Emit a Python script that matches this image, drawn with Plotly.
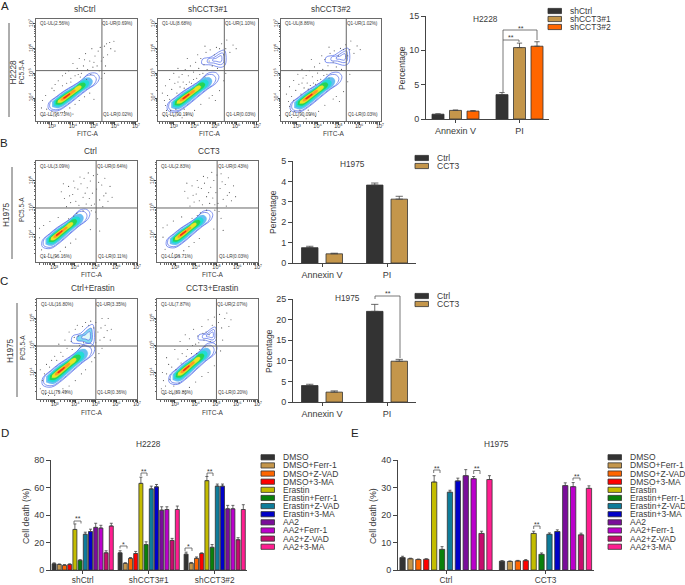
import numpy as np
import plotly.graph_objects as go

W, H = 685, 585
FONT = "Liberation Sans"
INK = "#3a3a3a"

# ---------- bar data ----------
A_GROUPS = ["Annexin V", "PI"]
A_SERIES = ["shCtrl", "shCCT3#1", "shCCT3#2"]
A_VALUES = [[0.7, 3.55], [1.25, 10.4], [1.15, 10.6]]
A_ERRORS = [[0.05, 0.3], [0.06, 0.65], [0.07, 0.65]]
A_COLORS = ["#333333", "#C4964B", "#FF6600"]

B_GROUPS = ["Annexin V", "PI"]
B_SERIES = ["Ctrl", "CCT3"]
B_VALUES = [[0.75, 3.82], [0.45, 3.13]]
B_ERRORS = [[0.07, 0.1], [0.03, 0.14]]

C_GROUPS = ["Annexin V", "PI"]
C_SERIES = ["Ctrl", "CCT3"]
C_VALUES = [[4.0, 22.0], [2.4, 9.9]]
C_ERRORS = [[0.3, 1.7], [0.3, 0.45]]

TREATMENTS = ["DMSO", "DMSO+Ferr-1", "DMSO+Z-VAD", "DMSO+3-MA", "Erastin", "Erastin+Ferr-1",
              "Erastin+Z-VAD", "Erastin+3-MA", "AA2", "AA2+Ferr-1", "AA2+Z-VAD", "AA2+3-MA"]
T_COLORS = ["#333333", "#C4964B", "#FF6600", "#FF0000", "#C4BC00", "#0A800A",
            "#0E7C9A", "#0000C8", "#7A0D9A", "#BB00CC", "#C60C6E", "#FF1E90"]

D_GROUPS = ["shCtrl", "shCCT3#1", "shCCT3#2"]
D_VALUES = [[4.5, 4.0, 3.5, 4.0, 29.5, 7.0, 26.0, 28.0, 31.0, 30.5, 12.5, 32.0],
            [12.5, 4.8, 8.5, 12.0, 63.0, 18.5, 59.0, 60.5, 43.5, 44.0, 21.5, 44.0],
            [11.5, 5.0, 8.5, 12.0, 65.0, 16.5, 61.0, 61.0, 44.5, 44.5, 22.0, 44.0]]
D_ERRORS = [[0.7, 0.4, 0.4, 0.5, 4.0, 0.5, 1.5, 1.7, 3.0, 2.0, 1.5, 2.0],
            [1.5, 0.5, 0.5, 1.5, 4.5, 2.0, 2.0, 1.7, 2.5, 2.0, 1.5, 2.5],
            [1.5, 0.5, 1.0, 0.5, 3.0, 2.0, 1.5, 1.5, 2.5, 2.5, 1.5, 3.5]]

E_GROUPS = ["Ctrl", "CCT3"]
E_VALUES = [[4.5, 4.1, 3.8, 3.9, 32.0, 7.5, 28.3, 32.4, 34.3, 33.2, 13.3, 32.9],
            [3.2, 3.1, 3.3, 3.4, 13.3, 5.7, 13.0, 14.0, 30.7, 30.3, 12.8, 29.7]]
E_ERRORS = [[0.5, 0.2, 0.2, 0.2, 2.3, 1.0, 0.7, 1.0, 2.2, 0.8, 0.8, 1.4],
            [0.2, 0.2, 0.2, 0.4, 0.8, 0.5, 0.5, 0.6, 1.0, 1.5, 0.6, 0.9]]

# ---------- flow cytometry data (decades of signal) ----------
QUADRANTS = {
    "shCtrl": ["2.56", "0.69", "96.73", "0.02"],
    "shCCT3#1": ["8.68", "1.10", "90.19", "0.03"],
    "shCCT3#2": ["8.86", "1.02", "90.09", "0.03"],
    "Ctrl": ["3.09", "0.64", "96.16", "0.11"],
    "CCT3": ["2.83", "0.43", "96.71", "0.03"],
    "Ctrl+Erastin": ["16.80", "3.35", "79.49", "0.36"],
    "CCT3+Erastin": ["7.87", "2.07", "89.86", "0.20"],
}
MAIN_OUTLINE = [(2.85, 3.55), (3.25, 3.48), (3.75, 3.72), (4.2, 4.02), (4.7, 4.35), (5.15, 4.62),
                (5.25, 4.85), (5.1, 5.0), (4.75, 4.98), (4.4, 4.72), (4.0, 4.5), (3.6, 4.3),
                (3.2, 4.05), (2.85, 3.8)]
UPPER_OUTLINE = [(-1.05, -0.25), (-0.5, -0.3), (0.1, -0.42), (0.35, -0.3), (0.4, 0.2),
                 (0.3, 0.45), (-0.05, 0.35), (-0.5, 0.1), (-1.0, 0.0)]

DOTS_A1 = [(3.3,4.7),(3.5,4.9),(3.7,4.6),(3.8,5.1),(3.9,4.8),(4.0,5.4),(4.1,4.9),(4.2,5.2),(4.3,5.6),
           (4.4,5.0),(4.5,5.3),(4.6,5.8),(4.7,5.15),(4.8,5.5),(4.9,6.0),(4.95,5.25),(5.05,5.7),(5.15,5.3),
           (5.2,5.9),(5.3,6.05),(5.35,5.5),(5.45,5.65),(5.5,6.1),(5.55,5.3),(5.6,6.2),(5.65,5.75),(5.75,6.25),
           (5.8,6.0),(5.95,6.3),(6.0,5.9),(5.5,5.0),(5.35,4.8),(2.5,3.6),(2.6,3.3),(2.7,4.1),(2.95,3.3),
           (3.1,4.3),(3.2,3.25),(3.4,3.4),(3.6,3.45),(3.85,3.6),(4.1,3.75),(4.3,3.9),(4.55,4.05),(4.8,4.2),
           (2.55,3.9),(3.0,4.4),(3.5,4.5),(3.9,4.65),(4.35,4.85),(4.65,4.75),(4.0,3.35),(5.0,3.95),
           (3.15,4.55),(3.65,5.0),(4.25,4.95),(4.55,5.55),(4.85,4.95),(5.0,5.45),(5.25,5.1),(2.75,3.55),(3.0,3.45)]
DOTS_A2 = [(2.5,3.3),(2.6,3.7),(2.7,3.25),(2.7,4.1),(2.85,3.5),(2.9,4.35),(3.0,3.25),(3.05,4.6),(3.15,4.2),
           (3.25,4.85),(3.3,4.45),(3.4,4.95),(3.45,4.65),(3.55,5.15),(3.6,4.55),(3.7,4.9),(3.8,5.3),(3.85,4.6),
           (3.95,5.05),(4.05,5.45),(4.1,4.8),(4.2,5.2),(4.3,5.6),(4.4,5.0),(4.45,5.35),(4.55,5.85),(4.6,5.15),
           (4.7,5.5),(4.75,5.95),(4.85,5.3),(4.95,5.75),(5.05,6.05),(5.1,5.2),(5.2,6.0),(5.3,6.2),(5.4,5.75),
           (5.5,6.0),(5.55,6.35),(5.7,5.85),(5.85,6.15),(6.0,6.0),(5.5,5.0),(5.4,4.7),(3.3,3.3),(3.6,3.35),
           (4.0,3.5),(4.3,3.75),(4.7,4.0),(5.0,3.9),(2.6,4.5),(3.0,5.0),(3.4,3.2),(4.85,4.1),(5.2,4.3),
           (2.55,3.9),(2.8,4.75),(3.2,5.2),(3.65,5.6),(4.15,5.75),(4.5,6.1),(2.45,4.2),(2.65,3.5),(2.8,3.95),
           (3.1,3.55),(3.2,4.65),(3.5,4.4),(3.75,4.65),(3.95,4.75),(4.25,4.95),(4.5,4.85),(3.5,3.55),(3.85,3.3)]
DOTS_B = [(3.35,5.6),(3.5,5.35),(3.6,5.05),(3.7,5.8),(3.8,5.2),(3.9,5.5),(3.95,6.0),(4.05,5.25),(4.15,5.7),
          (4.2,5.1),(4.3,5.9),(4.4,5.4),(4.45,6.1),(4.55,5.15),(4.6,5.75),(4.7,5.35),(4.75,6.0),(4.85,5.55),
          (4.9,6.2),(4.95,5.15),(5.05,5.7),(5.1,6.25),(5.2,5.3),(5.3,5.85),(5.35,5.05),(5.45,6.1),(5.5,5.55),
          (5.6,5.25),(5.7,5.8),(5.8,5.4),(5.0,4.85),(5.1,4.6),(4.8,4.9),(4.4,4.9),(4.1,4.8),(3.7,4.6),
          (3.95,4.7),(2.3,3.9),(2.4,3.45),(2.55,3.2),(2.75,3.3),(2.9,3.15),(3.1,3.2),(3.3,3.4),(3.55,3.55),
          (3.8,3.7),(4.05,3.85),(2.3,4.25),(2.5,4.35),(2.8,4.5),(5.2,4.15),(4.75,4.2),(3.2,4.65),
          (3.45,5.9),(3.75,5.45),(4.0,5.75),(4.25,6.15),(4.5,5.55),(4.65,6.3),(4.8,5.1),(5.15,5.95),(5.4,5.45)]
DOTS_C1 = [(3.0,4.6),(3.2,5.05),(3.3,4.75),(3.5,5.2),(3.6,4.9),(3.7,5.5),(3.8,5.15),(3.85,4.85),(4.0,5.6),
           (4.1,5.75),(4.2,5.0),(4.35,5.7),(4.5,5.85),(4.65,5.75),(4.75,5.9),(4.9,5.65),(5.0,5.85),(5.1,5.5),
           (5.2,5.2),(5.25,5.65),(5.3,6.0),(5.4,5.3),(5.45,5.75),(5.55,5.55),(5.6,6.0),(5.7,5.2),(5.75,5.6),
           (5.3,4.9),(5.15,4.7),(4.95,4.55),(2.3,3.4),(2.4,3.7),(2.55,3.2),(2.7,3.15),(2.85,4.45),(3.0,3.15),
           (3.2,3.3),(3.4,3.4),(3.7,3.5),(4.0,3.7),(4.3,3.95),(2.3,4.1),(2.6,4.3),(4.5,4.1),(4.8,4.4),
           (3.4,4.6),(3.95,5.3),(4.15,5.35),(4.4,5.1),(2.5,3.95),(2.75,4.2),(3.1,4.45),(3.55,3.3),(5.0,5.1)]
DOTS_C2 = [(2.35,3.4),(2.4,4.0),(2.5,3.2),(2.6,4.55),(2.75,3.75),(2.85,4.2),(2.9,3.2),(3.0,4.85),(3.15,4.5),
           (3.25,5.15),(3.35,4.7),(3.5,5.4),(3.6,4.85),(3.7,5.25),(3.8,4.7),(3.9,5.6),(4.0,5.05),(4.1,5.35),
           (4.2,4.85),(4.3,5.7),(4.4,5.2),(4.5,5.5),(4.6,5.95),(4.7,5.15),(4.8,5.75),(4.9,6.05),(5.0,5.3),
           (5.1,5.85),(5.15,6.15),(5.25,5.65),(5.4,6.0),(5.5,6.2),(5.6,5.7),(5.7,5.95),(5.3,5.2),(5.2,4.8),
           (3.1,3.25),(3.4,3.3),(3.7,3.45),(4.0,3.65),(4.3,3.85),(4.6,4.0),(4.9,4.25),(2.6,3.95),(3.5,3.2),
           (2.45,3.7),(2.7,4.3),(2.95,3.5),(3.2,3.6),(3.3,4.35),(3.55,4.6),(3.85,5.0),(4.05,4.7),(4.35,5.45),
           (4.65,5.4),(2.55,3.5),(2.8,3.3),(3.05,4.1),(4.15,5.1),(4.45,4.95)]

SUPERS = {3: "\u00b3", 4: "\u2074", 5: "\u2075", 6: "\u2076", 7: "\u2077"}
MINOR = [np.log10(m) + d for d in range(2, 8) for m in range(2, 10)]
# along-axis and across-axis shrink of each filled contour level
FILL_LEVELS = [(0.80, 0.80), (0.70, 0.64), (0.60, 0.47), (0.48, 0.31), (0.30, 0.19), (0.14, 0.10)]
FILL_COLORS = ["#66bdf2", "#22dcd6", "#26d455", "#e8e626", "#ff9a22", "#f02a12"]
UX, UY = 0.85, 0.53

fig = go.Figure()
annotations, shapes, layout_axes = [], [], {}
ax_n = 0


def px(x):
    return x / W


def py(y):
    return 1 - y / H


def text(x, y, s, size=8.5, angle=0, anchor="center", color=INK):
    annotations.append(dict(x=px(x), y=py(y), xref="paper", yref="paper", text=s, showarrow=False,
                            xanchor=anchor, yanchor="middle", textangle=angle, borderpad=0,
                            font=dict(family=FONT, size=size, color=color)))


def bracket(x0, y0, x1, y1, ytop, star=None, starx=None, stary=None):
    path = f"M {px(x0)} {py(y0)} L {px(x0)} {py(ytop)} L {px(x1)} {py(ytop)} L {px(x1)} {py(y1)}"
    shapes.append(dict(type="path", path=path, xref="paper", yref="paper",
                       line=dict(color="#555555", width=0.8)))
    if star:
        text(starx, stary, star, size=7)


def legend(x, ys, labels, colors, tx, size=8.5):
    for yc, lab, col in zip(ys, labels, colors):
        shapes.append(dict(type="rect", xref="paper", yref="paper", x0=px(x), x1=px(x + 13.5),
                           y0=py(yc - 2.6), y1=py(yc + 2.6), fillcolor=col,
                           line=dict(color="#333333", width=0.8)))
        text(tx, yc, lab, size=size, anchor="left")


def new_axes(rect):
    global ax_n
    ax_n += 1
    sfx = "" if ax_n == 1 else str(ax_n)
    l, t, r, b = rect
    xa = dict(domain=[px(l), px(r)], anchor=f"y{sfx}", automargin=False)
    ya = dict(domain=[py(b), py(t)], anchor=f"x{sfx}", automargin=False)
    layout_axes[f"xaxis{sfx}"] = xa
    layout_axes[f"yaxis{sfx}"] = ya
    return f"x{sfx}", f"y{sfx}", xa, ya


def bars(rect, groups, series, values, errors, colors, ymax, dtick, c0, spacing, step, width, size=9, xsize=9, xoff=0):
    xr, yr, xa, ya = new_axes(rect)
    n = len(series)
    for i, (name, vals, errs, col) in enumerate(zip(series, values, errors, colors)):
        off = ((i - (n - 1) / 2) * step - width / 2) / spacing
        fig.add_trace(go.Bar(x=groups, y=vals, name=name, xaxis=xr, yaxis=yr, showlegend=False,
                             width=width / spacing, offset=off,
                             marker=dict(color=col, line=dict(color="#333333", width=0.8)),
                             error_y=dict(type="data", array=errs, arrayminus=[0] * len(errs), symmetric=False,
                                          color="#444444", thickness=0.8, width=max(1.5, width * 0.22))))
    xa.update(type="category", categoryorder="array", categoryarray=groups,
              range=[(rect[0] - c0) / spacing, (rect[2] - c0) / spacing],
              showline=True, linecolor="#444444", linewidth=1, showgrid=False, zeroline=False,
              ticks="outside", ticklen=3, tickwidth=1, tickcolor="#444444", ticklabelstandoff=xoff,
              tickfont=dict(family=FONT, size=xsize, color=INK))
    ya.update(range=[0, ymax], dtick=dtick, showline=True, linecolor="#444444", linewidth=1, showgrid=False,
              zeroline=False, ticks="outside", ticklen=4, tickwidth=1, tickcolor="#444444",
              tickfont=dict(family=FONT, size=size, color=INK))


def shrink(mx, my, cx, cy, sa, sp):
    xs, ys = [], []
    for x, y in zip(mx, my):
        dx, dy = x - cx, y - cy
        a = dx * UX + dy * UY
        b = -dx * UY + dy * UX
        a, b = a * sa, b * sp
        xs.append(cx + a * UX - b * UY)
        ys.append(cy + a * UY + b * UX)
    return xs, ys


def flow(rect, title, xrange, yrange, gx, gy, ylabels, dots, c, extra=None):
    xr, yr, xa, ya = new_axes(rect)
    cx, cy, sx, sy = c
    mx = [(p[0] - 3.65) * sx + cx for p in MAIN_OUTLINE]
    my = [(p[1] - 4.05) * sy + cy for p in MAIN_OUTLINE]
    for sc in (1.0, 0.91):
        xs, ys = shrink(mx + mx[:1], my + my[:1], cx, cy, sc, sc)
        fig.add_trace(go.Scatter(x=xs, y=ys, mode="lines", line=dict(color="#4a66e8", width=0.7, shape="spline"),
                                 xaxis=xr, yaxis=yr, showlegend=False, hoverinfo="skip"))
    for (sa, sp), col in zip(FILL_LEVELS, FILL_COLORS):
        xs, ys = shrink(mx, my, cx, cy, sa, sp)
        fig.add_trace(go.Scatter(x=xs, y=ys, mode="lines", fill="toself", fillcolor=col,
                                 line=dict(color=col, width=0.3, shape="spline"),
                                 xaxis=xr, yaxis=yr, showlegend=False, hoverinfo="skip"))
    if extra:
        ex, ey, ksx, ksy, filled = extra
        for sc in (1.0, 0.68, 0.38):
            fig.add_trace(go.Scatter(
                x=[ex + p[0] * ksx * sc for p in UPPER_OUTLINE + UPPER_OUTLINE[:1]],
                y=[ey + p[1] * ksy * sc for p in UPPER_OUTLINE + UPPER_OUTLINE[:1]],
                mode="lines", line=dict(color="#4a66e8", width=0.7, shape="spline"),
                fill="toself" if filled and sc < 1 else None,
                fillcolor="#7fdcef" if sc > 0.5 else "#dff8f8",
                xaxis=xr, yaxis=yr, showlegend=False, hoverinfo="skip"))
    fig.add_trace(go.Scatter(x=[p[0] for p in dots], y=[p[1] for p in dots], mode="markers",
                             marker=dict(size=1.1, color="#555555"), xaxis=xr, yaxis=yr,
                             showlegend=False, hoverinfo="skip"))
    for xs, ys in [([gx, gx], yrange), (xrange, [gy, gy])]:
        fig.add_trace(go.Scatter(x=xs, y=ys, mode="lines", line=dict(color="#666666", width=1),
                                 xaxis=xr, yaxis=yr, showlegend=False, hoverinfo="skip"))
    common = dict(showline=True, mirror=True, linecolor="#6a6a6a", linewidth=1, showgrid=False, zeroline=False,
                  ticks="outside", ticklen=2.5, tickwidth=0.7, tickcolor="#444444",
                  ticklabelstandoff=-3,
                  tickfont=dict(family=FONT, size=5.5, color=INK),
                  minor=dict(tickvals=MINOR, ticks="outside", ticklen=1.5, tickwidth=0.5, tickcolor="#666666"))
    xa.update(range=xrange, tickvals=[3, 4, 5, 6, 7], ticktext=[f"10{SUPERS[d]}" for d in range(3, 8)], **common)
    ya.update(range=yrange, tickvals=ylabels, ticktext=[f"10{SUPERS[d]}" for d in ylabels], tickangle=-90, **common)
    q = QUADRANTS[title]
    l, t, r, b = rect
    vx = l + (gx - xrange[0]) / (xrange[1] - xrange[0]) * (r - l)
    text(l + 2.5, t + 5, f"Q1-UL({q[0]}%)", size=4.6, anchor="left")
    text(vx - 0.5, t + 5, f"Q1-UR({q[1]}%)", size=4.6, anchor="left")
    text(l + 2.5, b - 6, f"Q1-LL({q[2]}%)", size=4.6, anchor="left")
    text(vx + 0.5, b - 6, f"Q1-LR({q[3]}%)", size=4.6, anchor="left")


# ---------- flow panels ----------
AX, AY = [2.24, 7.05], [3.07, 7.2]
flow((36, 19, 137, 121), "shCtrl", AX, AY, 5.38, 5.11, [4, 5, 6, 7], DOTS_A1, (3.65, 4.05, 1, 1))
flow((158, 19, 258, 121), "shCCT3#1", AX, AY, 5.43, 5.11, [4, 5, 6, 7], DOTS_A2, (3.53, 4.03, 1.02, 1.05),
     extra=(5.19, 5.58, 0.8, 0.8, False))
flow((281, 19, 381, 121), "shCCT3#2", AX, AY, 5.38, 5.11, [4, 5, 6, 7],
     [(p[0] + 0.05, p[1] - 0.04) for p in DOTS_A2], (3.53, 4.03, 1.02, 1.05), extra=(5.22, 5.66, 0.8, 0.8, False))
BX, BY = [2.13, 7.0], [3.0, 6.74]
flow((36, 161, 137, 262), "Ctrl", BX, BY, 5.03, 5.0, [4, 5, 6], DOTS_B, (3.2, 4.04, 0.95, 0.95))
flow((157, 161, 258, 262), "CCT3", BX, BY, 5.03, 5.0, [4, 5, 6], [(p[0] + 0.12, p[1] + 0.02) for p in DOTS_B],
     (3.34, 4.04, 0.92, 0.9))
CX, CY = [2.14, 7.0], [3.02, 6.72]
flow((37, 299, 137, 399), "Ctrl+Erastin", CX, CY, 5.0, 4.98, [4, 5, 6], DOTS_C1, (3.26, 4.06, 1.05, 1.05),
     extra=(4.62, 5.35, 0.75, 0.95, True))
flow((157, 299, 258, 399), "CCT3+Erastin", CX, CY, 5.0, 4.98, [4, 5, 6], DOTS_C2, (3.5, 4.13, 0.95, 1.0),
     extra=(4.76, 5.39, 0.6, 0.65, False))

for x, y, s in [(85, 9, "shCtrl"), (208, 9, "shCCT3#1"), (331, 9, "shCCT3#2"), (90, 151, "Ctrl"), (209, 151, "CCT3"),
                (93, 288, "Ctrl+Erastin"), (213, 288, "CCT3+Erastin")]:
    text(x, y, s, size=8.3)
for x, y in [(88, 134), (210, 134), (334, 134), (92, 274), (213, 274), (92, 412), (213, 412)]:
    text(x, y, "FITC-A", size=6.5)
for x, y in [(20.5, 72), (21, 210), (22, 348)]:
    text(x, y, "PC5.5-A", size=6.5, angle=-90)
text(12.5, 72, "H2228", size=8.2, angle=-90)
text(6, 215, "H1975", size=8.2, angle=-90)
text(10, 351, "H1975", size=8.2, angle=-90)
for x, t, b in [(9, 23, 117), (12, 167, 259), (17, 303, 397)]:
    shapes.append(dict(type="line", xref="paper", yref="paper", x0=px(x), x1=px(x), y0=py(t), y1=py(b),
                       line=dict(color="#333333", width=0.8)))
for x, y, s in [(5, 6, "A"), (4, 143, "B"), (4, 281, "C"), (5, 433, "D"), (355, 433, "E")]:
    text(x, y, s, size=11.5, color="#222222")

# ---------- bar panels ----------
bars((426, 16, 549, 119), A_GROUPS, A_SERIES, A_VALUES, A_ERRORS, A_COLORS, 15, 5, 455.5, 64, 17.5, 12)
text(486, 19, "H2228", size=8.3)
text(402, 68, "Percentage", size=8.5, angle=-90)
legend(548, [11, 19, 27], A_SERIES, A_COLORS, 569)
bracket(503, 92, 519, 42, 40, "**", 511, 38)
bracket(503, 40, 537, 40, 30, "**", 521, 28.5)

bars((293, 161, 416, 263), B_GROUPS, B_SERIES, B_VALUES, B_ERRORS, A_COLORS[:2], 5, 1, 322, 65, 24.5, 16.5)
text(352, 164, "H1975", size=8.3)
text(273, 212, "Percentage", size=8.5, angle=-90)
legend(415, [158, 166], B_SERIES, A_COLORS[:2], 436)

bars((293, 299, 416, 402), C_GROUPS, C_SERIES, C_VALUES, C_ERRORS, A_COLORS[:2], 25, 5, 322, 65, 24.5, 16.5)
text(348, 298, "H1975", size=8.3)
text(269, 351, "Percentage", size=8.5, angle=-90)
legend(415, [296, 304], C_SERIES, A_COLORS[:2], 436)
bracket(375, 299, 400, 358, 296, "**", 388, 293)

LEG_Y = [457.3 + 8.13 * i for i in range(12)]
bars((51, 460, 247, 570), D_GROUPS, TREATMENTS, list(map(list, zip(*D_VALUES))),
     list(map(list, zip(*D_ERRORS))), T_COLORS, 80, 20, 82.7, 66, 5.2, 4, xsize=8.3, xoff=-1)
text(148, 444, "H2228", size=8.3)
text(26, 516, "Cell death (%)", size=8.8, angle=-90)
legend(261, LEG_Y, TREATMENTS, T_COLORS, 282)
for x0, x1, top, leg, star, sy in [(74, 81, 521, 523.5, "**", 518.5), (120, 127, 546, 548.5, "*", 544),
                                   (141, 147, 473, 476, "**", 471), (185, 192, 548, 551, "*", 546),
                                   (207, 213, 473, 476, "**", 471)]:
    bracket(x0, leg, x1, leg, top, star, (x0 + x1) / 2, sy)

bars((398, 460, 594, 570), E_GROUPS, TREATMENTS, list(map(list, zip(*E_VALUES))),
     list(map(list, zip(*E_ERRORS))), T_COLORS, 40, 10, 446, 99.5, 7.9, 5.3, xsize=8.3, xoff=-1)
text(496, 444, "H1975", size=8.3)
text(373, 516, "Cell death (%)", size=8.8, angle=-90)
legend(608, LEG_Y, TREATMENTS, T_COLORS, 629)
for x0, x1, top, leg, sy in [(433.7, 440, 470, 473, 468), (473.7, 480, 470.5, 474, 468),
                             (533.7, 540, 526, 529, 524), (573, 580, 478, 480.5, 476)]:
    bracket(x0, leg, x1, leg, top, "**", (x0 + x1) / 2, sy)

fig.update_layout(template="none", width=W, height=H, margin=dict(l=0, r=0, t=0, b=0), paper_bgcolor="white", plot_bgcolor="white",
                  barmode="overlay", showlegend=False, annotations=annotations, shapes=shapes,
                  font=dict(family=FONT), **layout_axes)
fig.write_html("out.html", config=dict(displayModeBar=False),
               post_script="document.body.style.margin='0';document.body.style.overflow='hidden';")
